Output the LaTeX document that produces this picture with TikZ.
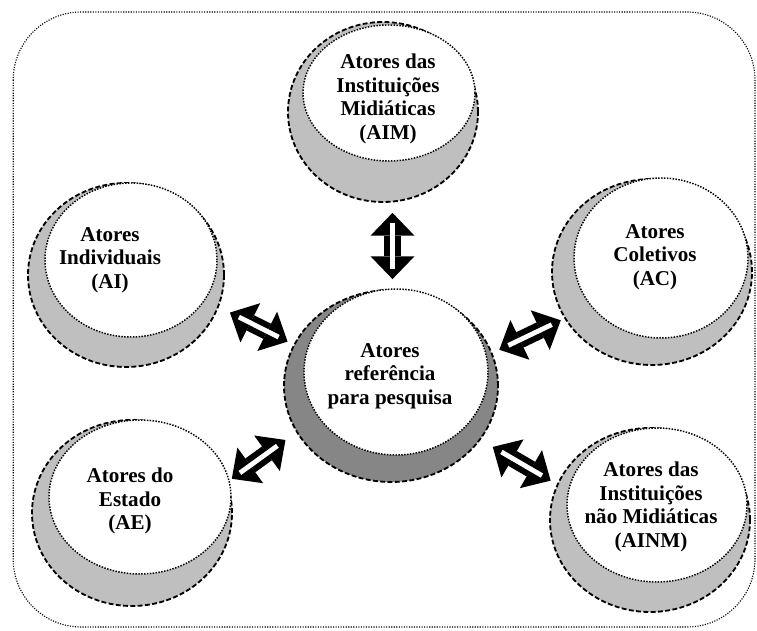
\documentclass[tikz,border=0pt]{standalone}
\usepackage{fontspec}
\setmainfont{Liberation Serif}
\usetikzlibrary{arrows.meta, shapes.geometric, calc}

% double-headed block arrow: black body, white slot
\newcommand{\biarrow}[4]{%
  \draw[biarrow, shorten <=#3, shorten >=#4] #1 -- #2;
  \draw[slot, shorten <=#3+0.25cm, shorten >=#4+0.25cm] #1 -- #2;}

\begin{document}
\begin{tikzpicture}[
    outer/.style={ellipse, draw, line width=1.3pt, dash pattern=on 3.5pt off 1.7pt, fill=gray!50, inner sep=0pt},
    inner/.style={ellipse, draw, line width=1.05pt, densely dotted, fill=white, inner sep=0pt},
    lbl/.style={align=center, font=\fontsize{15}{16.8}\selectfont\bfseries},
    frame/.style={densely dotted, line width=0.8pt, rounded corners=1.7cm},
    biarrow/.style={line width=0.425cm,
        {Triangle[width=1.1cm, length=0.57cm, line width=0pt]}-{Triangle[width=1.1cm, length=0.57cm, line width=0pt]}},
    slot/.style={white, line width=0.12cm}
]
    \useasboundingbox (0,0) rectangle (18.925,-15.775);
    \draw[frame] (0.33,-0.3) rectangle (18.875,-15.675);

    % centre
    \node[outer, fill=gray!95, minimum width=5.35cm, minimum height=4.8cm] (ref) at (9.775,-9.65) {};
    \node[inner, minimum width=4.6cm, minimum height=4.15cm] (ref-in) at (9.9,-9.3) {};
    \node[lbl] (ref-t) at (9.75,-9.4) {Atores\\referência\\para pesquisa};

    % actors around
    \node[outer, minimum width=4.75cm, minimum height=4.5cm] (aim) at (9.575,-2.8) {};
    \node[inner, minimum width=4.3cm, minimum height=3.4cm] (aim-in) at (9.725,-2.325) {};
    \node[lbl] (aim-t) at (9.7,-2.475) {Atores das\\Instituições\\Midiáticas\\(AIM)};

    \node[outer, minimum width=4.9cm, minimum height=4.6cm] (ai) at (3.15,-6.875) {};
    \node[inner, minimum width=4.3cm, minimum height=3.85cm] (ai-in) at (3.275,-6.5) {};
    \node[lbl] (ai-t) at (2.75,-6.5) {Atores\\Individuais\\(AI)};

    \node[outer, minimum width=5cm, minimum height=4.65cm] (ac) at (16.3,-6.8) {};
    \node[inner, minimum width=4.35cm, minimum height=4cm] (ac-in) at (16.525,-6.45) {};
    \node[lbl] (ac-t) at (16.375,-6.425) {Atores\\Coletivos\\(AC)};

    \node[outer, minimum width=5cm, minimum height=4.65cm] (ae) at (3.3,-12.825) {};
    \node[inner, minimum width=4.55cm, minimum height=3.85cm] (ae-in) at (3.5,-12.425) {};
    \node[lbl] (ae-t) at (3.25,-12.525) {Atores do\\Estado\\(AE)};

    \node[outer, minimum width=5cm, minimum height=4.6cm] (ainm) at (16.25,-13) {};
    \node[inner, minimum width=4.5cm, minimum height=3.85cm] (ainm-in) at (16.425,-12.625) {};
    \node[lbl] (ainm-t) at (16.275,-12.675) {Atores das\\Instituições\\não Midiáticas\\(AINM)};

    % links
    \biarrow{(aim.-84)}{(aim.-84 |- ref.north)}{0.26cm}{0.25cm}
    \biarrow{(ai.-19)}{(ref.157)}{0.31cm}{0.165cm}
    \biarrow{(ae.18)}{(ref.206)}{0.14cm}{0.33cm}
    \biarrow{(ac.208)}{(ref.18)}{0.1cm}{0.19cm}
    \biarrow{(ainm.159)}{(ref.-31)}{0.18cm}{0.35cm}
\end{tikzpicture}
\end{document}
